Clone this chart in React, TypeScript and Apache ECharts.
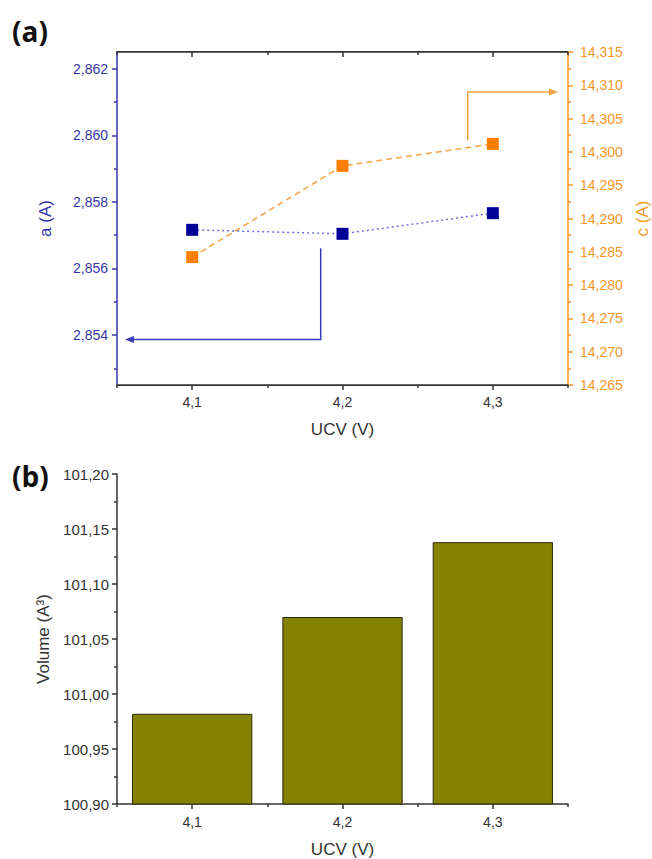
import React, { useEffect, useRef } from "react";
import * as echarts from "echarts";

const categories = ["4,1", "4,2", "4,3"];
const aValues = [2.85716, 2.85704, 2.85766];
const cValues = [14.2842, 14.2979, 14.3012];
const volumeValues = [100.982, 101.07, 101.138];
const aTicks = [2.854, 2.856, 2.858, 2.86, 2.862];
const aMinorTicks = [2.853, 2.855, 2.857, 2.859, 2.861];
// annotation arrows: [category position, value]
const arrowA = [
  [0.855, 2.85661],
  [0.855, 2.85387],
  [-0.447, 2.85387],
];
const arrowC = [
  [1.833, 14.3018],
  [1.833, 14.309],
  [2.434, 14.309],
];

const BLUE = "#3636aa";
const ORANGE = "#f5962a";
const DARK = "#333";
const FONT = "Liberation Sans";

const fmt = (d: number) => (v: number) => Number(v).toFixed(d).replace(".", ",");

export default function App() {
  const ref = useRef<HTMLDivElement>(null);
  const frameRef = useRef<HTMLDivElement>(null);
  useEffect(() => {
    document.body.style.margin = "0";
    const chart = echarts.init(ref.current!, null, { renderer: "svg" });
    const G0 = { left: 117, top: 52, width: 451, height: 333 };
    const G1 = { left: 117, top: 474, width: 451, height: 330 };
    const catAxis = (gridIndex: number, extra: any) => ({
      type: "category",
      gridIndex,
      data: categories,
      boundaryGap: true,
      splitLine: { show: false },
      ...extra,
    });
    const option: any = {
      animation: false,
      textStyle: { fontFamily: FONT },
      grid: [
        { ...G0, containLabel: false, outerBoundsMode: "none" },
        { ...G1, containLabel: false, outerBoundsMode: "none" },
        { ...G0, containLabel: false, outerBoundsMode: "none" },
        { ...G1, containLabel: false, outerBoundsMode: "none" },
      ],
      xAxis: [
        catAxis(0, {
          position: "bottom",
          axisLine: { show: true, onZero: false, lineStyle: { color: DARK, width: 1.5 } },
          axisTick: { show: true, alignWithLabel: true, length: 5, lineStyle: { color: DARK, width: 1.5 } },
          axisLabel: { color: "#333", fontSize: 14, margin: 10, fontFamily: FONT },
          name: "UCV (V)",
          nameLocation: "middle",
          nameGap: 36,
          nameTextStyle: { color: "#333", fontSize: 17, fontFamily: FONT },
        }),
        catAxis(0, {
          position: "top",
          axisLine: { show: true, onZero: false, lineStyle: { color: DARK, width: 1.5 } },
          axisTick: { show: true, alignWithLabel: true, inside: true, length: 5, lineStyle: { color: DARK, width: 1.5 } },
          axisLabel: { show: false },
        }),
        catAxis(2, {
          position: "bottom",
          axisLine: { show: false, onZero: false },
          axisTick: { show: true, alignWithLabel: false, length: 3, lineStyle: { color: DARK, width: 1.5 } },
          axisLabel: { show: false },
        }),
        catAxis(2, {
          position: "top",
          axisLine: { show: false, onZero: false },
          axisTick: { show: true, alignWithLabel: false, inside: true, length: 3, lineStyle: { color: DARK, width: 1.5 } },
          axisLabel: { show: false },
        }),
        catAxis(1, {
          position: "bottom",
          axisLine: { show: true, onZero: false, lineStyle: { color: DARK, width: 1.5 } },
          axisTick: { show: true, alignWithLabel: true, length: 5, lineStyle: { color: DARK, width: 1.5 } },
          axisLabel: { color: "#333", fontSize: 14, margin: 11, fontFamily: FONT },
          name: "UCV (V)",
          nameLocation: "middle",
          nameGap: 37,
          nameTextStyle: { color: "#333", fontSize: 17, fontFamily: FONT },
        }),
        catAxis(3, {
          position: "bottom",
          axisLine: { show: false, onZero: false },
          axisTick: { show: true, alignWithLabel: false, length: 3, lineStyle: { color: DARK, width: 1.5 } },
          axisLabel: { show: false },
        }),
      ],
      yAxis: [
        {
          type: "value",
          gridIndex: 0,
          position: "left",
          min: 2.8525,
          max: 2.8625,
          splitLine: { show: false },
          axisLine: { show: true, onZero: false, lineStyle: { color: BLUE, width: 1.5 } },
          axisTick: { show: true, customValues: aTicks, length: 5, lineStyle: { color: BLUE, width: 1.5 } },
          axisLabel: { customValues: aTicks, formatter: fmt(3), color: BLUE, fontSize: 14, margin: 9, fontFamily: FONT },
          name: "a (A)",
          nameLocation: "middle",
          nameRotate: 90,
          nameGap: 63,
          nameTextStyle: { color: BLUE, fontSize: 17, fontFamily: FONT },
        },
        {
          type: "value",
          gridIndex: 2,
          position: "left",
          min: 2.8525,
          max: 2.8625,
          splitLine: { show: false },
          axisLine: { show: false, onZero: false },
          axisTick: { show: true, customValues: aMinorTicks, length: 3, lineStyle: { color: BLUE, width: 1.5 } },
          axisLabel: { show: false },
        },
        {
          type: "value",
          gridIndex: 0,
          position: "right",
          min: 14.265,
          max: 14.315,
          interval: 0.005,
          splitLine: { show: false },
          axisLine: { show: true, onZero: false, lineStyle: { color: ORANGE, width: 1.5 } },
          axisTick: { show: true, length: 5, lineStyle: { color: ORANGE, width: 1.5 } },
          minorTick: { show: true, splitNumber: 2, length: 3, lineStyle: { color: ORANGE, width: 1.5 } },
          axisLabel: { formatter: fmt(3), color: ORANGE, fontSize: 14, margin: 12, fontFamily: FONT },
          name: "c (A)",
          nameLocation: "middle",
          nameRotate: 90,
          nameGap: 66,
          nameTextStyle: { color: ORANGE, fontSize: 17, fontFamily: FONT },
        },
        {
          type: "value",
          gridIndex: 1,
          position: "left",
          min: 100.9,
          max: 101.2,
          interval: 0.05,
          splitLine: { show: false },
          axisLine: { show: true, onZero: false, lineStyle: { color: DARK, width: 1.5 } },
          axisTick: { show: true, length: 5, lineStyle: { color: DARK, width: 1.5 } },
          minorTick: { show: true, splitNumber: 2, length: 3, lineStyle: { color: DARK, width: 1.5 } },
          axisLabel: { formatter: fmt(2), color: "#333", fontSize: 15, margin: 8, fontFamily: FONT },
          name: "Volume (A³)",
          nameLocation: "middle",
          nameRotate: 90,
          nameGap: 65,
          nameTextStyle: { color: "#333", fontSize: 17, fontFamily: FONT },
        },
        {
          type: "value",
          gridIndex: 3,
          show: false,
          min: 100.9,
          max: 101.2,
        },
      ],
      series: [
        {
          type: "line",
          name: "a",
          xAxisIndex: 0,
          yAxisIndex: 0,
          data: aValues,
          clip: false,
          symbol: "rect",
          symbolSize: 12,
          itemStyle: { color: "#000099" },
          lineStyle: { color: "#7070dd", width: 1.5, type: [2, 3] },
          z: 3,
        },
        {
          type: "line",
          name: "c",
          xAxisIndex: 0,
          yAxisIndex: 2,
          data: cValues,
          clip: false,
          symbol: "rect",
          symbolSize: 12,
          itemStyle: { color: "#ff8000" },
          lineStyle: { color: "#f7a348", width: 1.5, type: [6, 4] },
          z: 2,
        },
        {
          type: "bar",
          name: "Volume",
          xAxisIndex: 4,
          yAxisIndex: 3,
          data: volumeValues,
          barWidth: "80%",
          itemStyle: { color: "#858200", borderColor: "#2a2a10", borderWidth: 1 },
        },
      ],
    };
    chart.setOption(option);

    const px = (pos: number, yIdx: number, val: number) => {
      const p0 = chart.convertToPixel({ xAxisIndex: 0 }, 0) as number;
      const p1 = chart.convertToPixel({ xAxisIndex: 0 }, 1) as number;
      const x = p0 + pos * (p1 - p0);
      const y = chart.convertToPixel({ yAxisIndex: yIdx }, val) as number;
      return [x, y];
    };
    const arrow = (pts: number[][], yIdx: number, color: string) => {
      const P = pts.map((p) => px(p[0], yIdx, p[1]));
      const tip = P[P.length - 1];
      const prev = P[P.length - 2];
      const dir = Math.sign(tip[0] - prev[0]);
      const L = 9;
      const W = 3.5;
      return [
        {
          type: "polyline",
          shape: { points: [...P.slice(0, -1), [tip[0] - dir * 4, tip[1]]] },
          style: { stroke: color, lineWidth: 1.5, fill: "none" },
          z: 10,
        },
        {
          type: "polygon",
          shape: {
            points: [tip, [tip[0] - dir * L, tip[1] - W], [tip[0] - dir * L, tip[1] + W]],
          },
          style: { fill: color },
          z: 10,
        },
      ];
    };
    chart.setOption({
      graphic: [
        ...arrow(arrowA, 0, "#3a3ab8"),
        ...arrow(arrowC, 2, "#f7a040"),
        {
          type: "text",
          left: 12,
          top: 17,
          style: { text: "(a)", fontSize: 28, fontWeight: "bold", fontFamily: "Open Sans", fill: "#111" },
        },
        {
          type: "text",
          left: 12,
          top: 462,
          style: { text: "(b)", fontSize: 28, fontWeight: "bold", fontFamily: "Open Sans", fill: "#111" },
        },
      ],
    });

    // frame (top and bottom edges) of panel (a), placed from the axis scales
    const xl = chart.convertToPixel({ xAxisIndex: 0 }, 0) as number;
    const xr = chart.convertToPixel({ xAxisIndex: 0 }, 2) as number;
    const half = (xr - xl) / 4;
    const yTop = chart.convertToPixel({ yAxisIndex: 0 }, 2.8625) as number;
    const yBot = chart.convertToPixel({ yAxisIndex: 0 }, 2.8525) as number;
    const f = frameRef.current;
    if (f) {
      f.style.left = `${xl - half}px`;
      f.style.top = `${yTop - 0.75}px`;
      f.style.width = `${xr - xl + 2 * half}px`;
      f.style.height = `${yBot - yTop + 1.5}px`;
    }
    return () => chart.dispose();
  }, []);
  return (
    <div style={{ position: "relative", width: 652, height: 859 }}>
      <div ref={ref} style={{ width: 652, height: 859 }} />
      <div
        ref={frameRef}
        style={{
          position: "absolute",
          boxSizing: "border-box",
          borderTop: "1.5px solid #333",
          borderBottom: "1.5px solid #333",
          pointerEvents: "none",
        }}
      />
    </div>
  );
}
